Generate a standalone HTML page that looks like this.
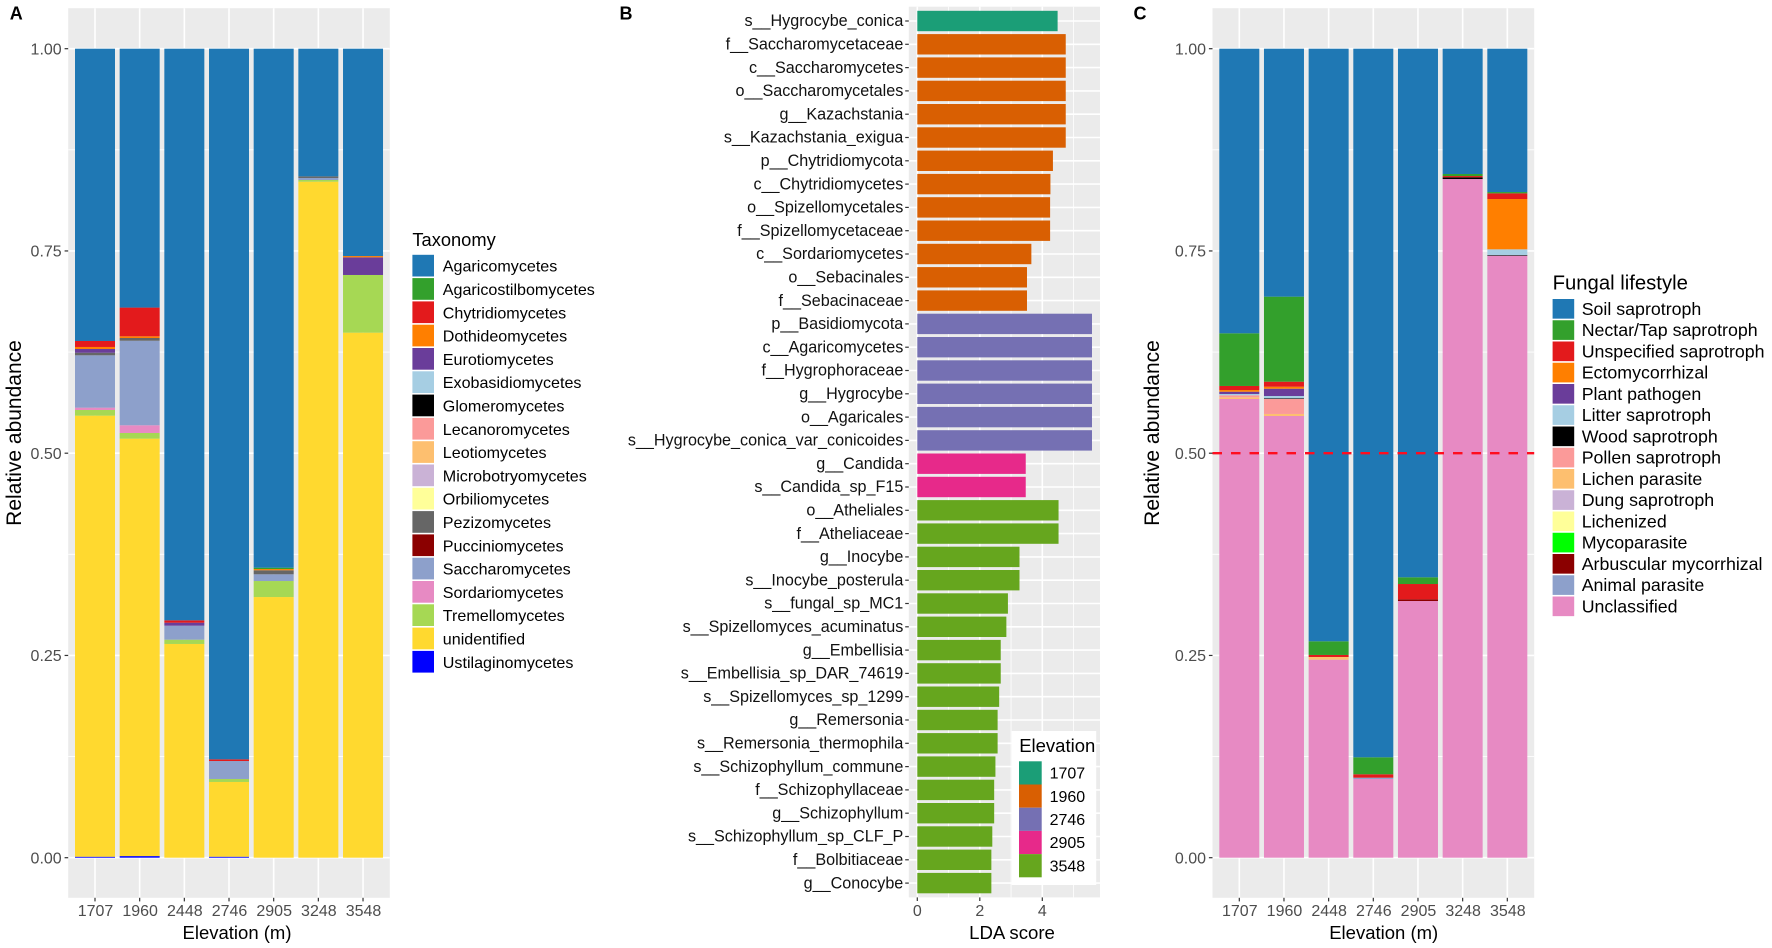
<!DOCTYPE html>
<html lang="en">
<head>
<meta charset="utf-8">
<title>Fungal community composition along elevation</title>
<style>
html,body{margin:0;padding:0;background:#fff;}
svg{display:block;font-family:"Liberation Sans",Arial,sans-serif;}
</style>
</head>
<body>
<svg id="figure" xmlns="http://www.w3.org/2000/svg" width="1772" height="948" viewBox="0 0 1772 948"></svg>
<script>
// ---------- shared categories ----------
const elevations = ["1707","1960","2448","2746","2905","3248","3548"];
const yTicks = [0, 0.25, 0.5, 0.75, 1];
const yMinorTicks = [0.125, 0.375, 0.625, 0.875];
const yTickLabels = ["0.00","0.25","0.50","0.75","1.00"];
const thresholdValue = 0.5;

// ---------- panel A: taxonomy (top of the stack first) ----------
const agaricomycetes       = [0.3613,0.3200,0.7066,0.8784,0.6415,0.1578,0.2563];
const agaricostilbomycetes = [0,0,0,0,0.0017,0,0];
const chytridiomycetes     = [0.0074,0.0355,0.0029,0.0021,0,0,0];
const dothideomycetes      = [0.0025,0.0021,0,0,0.0015,0,0.0016];
const eurotiomycetes       = [0.0046,0,0.0037,0,0,0,0.0218];
const exobasidiomycetes    = [0,0,0,0,0,0,0];
const glomeromycetes       = [0,0,0,0,0,0,0];
const lecanoromycetes      = [0,0,0,0,0,0,0];
const leotiomycetes        = [0,0,0,0,0,0,0];
const microbotryomycetes   = [0,0,0,0,0,0,0];
const orbiliomycetes       = [0,0,0,0,0,0,0];
const pezizomycetes        = [0.0032,0.0034,0,0,0.0050,0.0020,0];
const pucciniomycetes      = [0,0,0,0,0,0,0];
const saccharomycetes      = [0.0647,0.1045,0.0173,0.0222,0.0083,0.0025,0];
const sordariomycetes      = [0.0029,0.0095,0,0,0,0,0];
const tremellomycetes      = [0.0070,0.0070,0.0053,0.0037,0.0198,0.0021,0.0713];
const unidentifiedTaxon    = [0.5452,0.5160,0.2642,0.0924,0.3222,0.8356,0.6490];
const ustilaginomycetes    = [0.0012,0.0020,0,0.0012,0,0,0];
const taxonomyNames = ["Agaricomycetes","Agaricostilbomycetes","Chytridiomycetes","Dothideomycetes","Eurotiomycetes","Exobasidiomycetes","Glomeromycetes","Lecanoromycetes","Leotiomycetes","Microbotryomycetes","Orbiliomycetes","Pezizomycetes","Pucciniomycetes","Saccharomycetes","Sordariomycetes","Tremellomycetes","unidentified","Ustilaginomycetes"];
const taxonomySeries = [agaricomycetes,agaricostilbomycetes,chytridiomycetes,dothideomycetes,eurotiomycetes,exobasidiomycetes,glomeromycetes,lecanoromycetes,leotiomycetes,microbotryomycetes,orbiliomycetes,pezizomycetes,pucciniomycetes,saccharomycetes,sordariomycetes,tremellomycetes,unidentifiedTaxon,ustilaginomycetes];
const taxonomyColors = ["#1f78b4","#33a02c","#e31a1c","#ff7f00","#6a3d9a","#a6cee3","#000000","#fb9a99","#fdbf6f","#cab2d6","#ffff99","#666666","#8b0000","#8da0cb","#e78ac3","#a6d854","#ffd92f","#0000ff"];

// ---------- panel B: LDA scores (top row first) ----------
const ldaFeatures = ["s__Hygrocybe_conica","f__Saccharomycetaceae","c__Saccharomycetes","o__Saccharomycetales","g__Kazachstania","s__Kazachstania_exigua","p__Chytridiomycota","c__Chytridiomycetes","o__Spizellomycetales","f__Spizellomycetaceae","c__Sordariomycetes","o__Sebacinales","f__Sebacinaceae","p__Basidiomycota","c__Agaricomycetes","f__Hygrophoraceae","g__Hygrocybe","o__Agaricales","s__Hygrocybe_conica_var_conicoides","g__Candida","s__Candida_sp_F15","o__Atheliales","f__Atheliaceae","g__Inocybe","s__Inocybe_posterula","s__fungal_sp_MC1","s__Spizellomyces_acuminatus","g__Embellisia","s__Embellisia_sp_DAR_74619","s__Spizellomyces_sp_1299","g__Remersonia","s__Remersonia_thermophila","s__Schizophyllum_commune","f__Schizophyllaceae","g__Schizophyllum","s__Schizophyllum_sp_CLF_P","f__Bolbitiaceae","g__Conocybe"];
const ldaScores = [4.49,4.75,4.75,4.75,4.75,4.75,4.34,4.26,4.25,4.25,3.65,3.51,3.51,5.59,5.59,5.59,5.59,5.59,5.59,3.47,3.47,4.52,4.52,3.27,3.27,2.90,2.85,2.67,2.67,2.62,2.57,2.57,2.50,2.46,2.46,2.40,2.37,2.37];
const ldaGroups = ["1707","1960","1960","1960","1960","1960","1960","1960","1960","1960","1960","1960","1960","2746","2746","2746","2746","2746","2746","2905","2905","3548","3548","3548","3548","3548","3548","3548","3548","3548","3548","3548","3548","3548","3548","3548","3548","3548"];
const ldaLegendGroups = ["1707","1960","2746","2905","3548"];
const ldaColors = ["#1b9e77","#d95f02","#7570b3","#e7298a","#66a61e"];
const ldaTicks = [0,2,4];
const ldaMinorTicks = [1,3,5];

// ---------- panel C: fungal lifestyle (top of the stack first) ----------
const soilSaprotroph        = [0.3518,0.3065,0.7325,0.8759,0.6534,0.1549,0.1772];
const nectarTapSaprotroph   = [0.0651,0.1051,0.0169,0.0210,0.0083,0.0025,0.0016];
const unspecifiedSaprotroph = [0.0050,0.0062,0.0025,0.0042,0.0189,0.0016,0.0070];
const ectomycorrhizal       = [0.0021,0.0025,0,0,0,0,0.0622];
const plantPathogen         = [0.0028,0.0090,0,0,0,0,0];
const litterSaprotroph      = [0.0016,0.0029,0,0,0,0,0.0071];
const woodSaprotroph        = [0,0.0008,0,0,0,0.0021,0.0008];
const pollenSaprotroph      = [0.0025,0.0185,0,0,0,0,0];
const lichenParasite        = [0.0021,0.0025,0.0033,0,0,0,0];
const dungSaprotroph        = [0,0,0,0,0,0,0];
const lichenized            = [0,0,0,0,0,0,0];
const mycoparasite          = [0,0,0,0,0,0,0];
const arbuscularMycorrhizal = [0,0,0,0,0.0021,0,0];
const animalParasite        = [0,0,0,0.0016,0,0,0];
const unclassified          = [0.5670,0.5460,0.2448,0.0973,0.3173,0.8389,0.7441];
const lifestyleNames = ["Soil saprotroph","Nectar/Tap saprotroph","Unspecified saprotroph","Ectomycorrhizal","Plant pathogen","Litter saprotroph","Wood saprotroph","Pollen saprotroph","Lichen parasite","Dung saprotroph","Lichenized","Mycoparasite","Arbuscular mycorrhizal","Animal parasite","Unclassified"];
const lifestyleSeries = [soilSaprotroph,nectarTapSaprotroph,unspecifiedSaprotroph,ectomycorrhizal,plantPathogen,litterSaprotroph,woodSaprotroph,pollenSaprotroph,lichenParasite,dungSaprotroph,lichenized,mycoparasite,arbuscularMycorrhizal,animalParasite,unclassified];
const lifestyleColors = ["#1f78b4","#33a02c","#e31a1c","#ff7f00","#6a3d9a","#a6cee3","#000000","#fb9a99","#fdbf6f","#cab2d6","#ffff99","#00ff00","#8b0000","#8da0cb","#e78ac3"];

// ---------- drawing helpers ----------
const NS = "http://www.w3.org/2000/svg";
const root = document.getElementById("figure");
const slug = s => String(s).toLowerCase().replace(/[^a-z0-9]+/g,"-").replace(/^-|-$/g,"");
function shape(parent, tag, props, text){
  const el = document.createElementNS(NS, tag);
  for (const k in props) el.setAttribute(k, props[k]);
  if (text !== undefined) el.textContent = text;
  parent.appendChild(el);
  return el;
}
function group(parent, name){
  const g = document.createElementNS(NS, "g");
  
  
  parent.appendChild(g);
  return g;
}

// shared y axis for both stacked panels
const yTop = 48.7, yBottom = 857.7;
const yScale = v => yBottom - v * (yBottom - yTop);

function drawStackedPanel(cfg){
  const g = group(root, cfg.id + "-panel");
  const step = cfg.step;
  const xScale = i => cfg.firstCenter + i * step;
  const bg = shape(g, "rect", {x:cfg.left, y:8.2, width:cfg.right-cfg.left, height:889.6, fill:"#ebebeb"});
  
  

  yMinorTicks.forEach(t => {
    const line = shape(g, "line", {x1:cfg.left, x2:cfg.right, y1:yScale(t), y2:yScale(t), stroke:"#fff", "stroke-width":0.8});
    
    
  });
  yTicks.forEach((t,i) => {
    const line = shape(g, "line", {x1:cfg.left, x2:cfg.right, y1:yScale(t), y2:yScale(t), stroke:"#fff", "stroke-width":1.6});
    
    
    const tick = shape(g, "line", {x1:cfg.left-3.6, x2:cfg.left, y1:yScale(t), y2:yScale(t), stroke:"#333", "stroke-width":1.2});
    
    
    const label = shape(g, "text", {x:cfg.left-6.5, y:yScale(t)+5.7, "text-anchor":"end", "font-size":16, fill:"#4d4d4d"}, yTickLabels[i]);
    
    
  });
  elevations.forEach((e,i) => {
    const line = shape(g, "line", {x1:xScale(i), x2:xScale(i), y1:8.2, y2:897.8, stroke:"#fff", "stroke-width":1.6});
    
    
    const tick = shape(g, "line", {x1:xScale(i), x2:xScale(i), y1:897.8, y2:901.4, stroke:"#333", "stroke-width":1.2});
    
    
    const label = shape(g, "text", {x:xScale(i)+0.5, y:916, "text-anchor":"middle", "font-size":16, fill:"#4d4d4d"}, e);
    
    
  });

  // stacked bars: last series sits on the baseline, first series on top
  elevations.forEach((e,i) => {
    let cumulative = 0;
    for (let s = cfg.series.length - 1; s >= 0; s--){
      const v = cfg.series[s][i];
      if (v <= 0) continue;
      const y1 = yScale(cumulative), y2 = yScale(cumulative + v);
      const bar = shape(g, "rect", {x:xScale(i)-20, y:y2, width:40, height:y1-y2, fill:cfg.colors[s]});
      
      
      cumulative += v;
    }
  });

  if (cfg.threshold !== undefined){
    const rule = shape(g, "line", {x1:cfg.left, x2:cfg.right, y1:yScale(cfg.threshold), y2:yScale(cfg.threshold), stroke:"#ff0d1f", "stroke-width":2.4, "stroke-dasharray":"9.5 9"});
    
    
  }

  const yTitle = shape(g, "text", {transform:"translate("+cfg.yTitleX+",433) rotate(-90)", "text-anchor":"middle", "font-size":21, fill:"#000"}, "Relative abundance");
  
  
  const xTitle = shape(g, "text", {x:cfg.xTitleX, y:939, "text-anchor":"middle", "font-size":18.5, fill:"#000"}, "Elevation (m)");
  
  
  const letter = shape(g, "text", {x:cfg.letterX, y:19.5, "font-size":18, "font-weight":"bold", fill:"#000"}, cfg.letter);
  
  

  const lg = group(g, cfg.id + "-legend");
  const title = shape(lg, "text", {x:cfg.legX, y:cfg.legTitleY, "font-size":cfg.legTitleSize, fill:"#000"}, cfg.legTitle);
  
  
  cfg.names.forEach((n,i) => {
    const y = cfg.legY + i * cfg.legStep;
    const key = shape(lg, "rect", {x:cfg.legX, y:y, width:21.6, height:cfg.legStep-1.6, fill:cfg.colors[i]});
    
    
    const label = shape(lg, "text", {x:cfg.legTextX, y:y+cfg.legStep/2+5.2, "font-size":cfg.legTextSize, fill:"#000"}, n);
    
    
  });
}

function drawLdaPanel(){
  const g = group(root, "lda-panel");
  const left = 908.8, right = 1100, top = 6.7, bottom = 897.4;
  const xScale = v => 917.3 + v * 31.25;
  const yScaleBand = i => 21 + i * 23.3;
  const bg = shape(g, "rect", {x:left, y:top, width:right-left, height:bottom-top, fill:"#ebebeb"});
  
  
  ldaMinorTicks.forEach(t => {
    const line = shape(g, "line", {x1:xScale(t), x2:xScale(t), y1:top, y2:bottom, stroke:"#fff", "stroke-width":0.8});
    
    
  });
  ldaTicks.forEach(t => {
    const line = shape(g, "line", {x1:xScale(t), x2:xScale(t), y1:top, y2:bottom, stroke:"#fff", "stroke-width":1.6});
    
    
    const tick = shape(g, "line", {x1:xScale(t), x2:xScale(t), y1:bottom, y2:bottom+3.6, stroke:"#333", "stroke-width":1.2});
    
    
    const label = shape(g, "text", {x:xScale(t), y:916, "text-anchor":"middle", "font-size":16, fill:"#4d4d4d"}, String(t));
    
    
  });
  ldaFeatures.forEach((f,i) => {
    const cy = yScaleBand(i);
    const line = shape(g, "line", {x1:left, x2:right, y1:cy, y2:cy, stroke:"#fff", "stroke-width":1.6});
    
    
    const tick = shape(g, "line", {x1:left-3.6, x2:left, y1:cy, y2:cy, stroke:"#333", "stroke-width":1.2});
    
    
    const label = shape(g, "text", {x:903.3, y:cy+5.2, "text-anchor":"end", "font-size":16.15, fill:"#111"}, f);
    
    
  });
  ldaFeatures.forEach((f,i) => {
    const color = ldaColors[ldaLegendGroups.indexOf(ldaGroups[i])];
    const bar = shape(g, "rect", {x:xScale(0), y:yScaleBand(i)-10.2, width:xScale(ldaScores[i])-xScale(0), height:20.4, fill:color});
    
    
  });
  const xTitle = shape(g, "text", {x:1012, y:939, "text-anchor":"middle", "font-size":18.6, fill:"#000"}, "LDA score");
  
  
  const letter = shape(g, "text", {x:619.5, y:19.5, "font-size":18, "font-weight":"bold", fill:"#000"}, "B");
  
  

  const lg = group(g, "lda-legend");
  const box = shape(lg, "rect", {x:1011.7, y:731, width:84.5, height:154, fill:"#fff"});
  
  
  const title = shape(lg, "text", {x:1019.2, y:752, "font-size":18.5, fill:"#000"}, "Elevation");
  
  
  ldaLegendGroups.forEach((n,i) => {
    const y = 761.3 + i * 23.2;
    const key = shape(lg, "rect", {x:1019, y:y, width:22.7, height:23.2, fill:ldaColors[i]});
    
    
    const label = shape(lg, "text", {x:1049.6, y:y+17.3, "font-size":16, fill:"#000"}, n);
    
    
  });
}

drawStackedPanel({
  id:"taxonomy", letter:"A", letterX:9.8, left:68.2, right:389.8, firstCenter:95, step:44.67,
  series:taxonomySeries, names:taxonomyNames, colors:taxonomyColors,
  yTitleX:21, xTitleX:237, legTitle:"Taxonomy", legX:412.4, legTitleY:246, legTitleSize:18.3,
  legY:254.8, legStep:23.3, legTextX:442.8, legTextSize:16.1
});
drawLdaPanel();
drawStackedPanel({
  id:"lifestyle", letter:"C", letterX:1133.5, left:1212.5, right:1534.2, firstCenter:1239.3, step:44.67,
  series:lifestyleSeries, names:lifestyleNames, colors:lifestyleColors, threshold:thresholdValue,
  yTitleX:1159, xTitleX:1383.7, legTitle:"Fungal lifestyle", legX:1552.6, legTitleY:289.3, legTitleSize:20.3,
  legY:299, legStep:21.25, legTextX:1581.7, legTextSize:17.8
});
</script>
</body>
</html>
